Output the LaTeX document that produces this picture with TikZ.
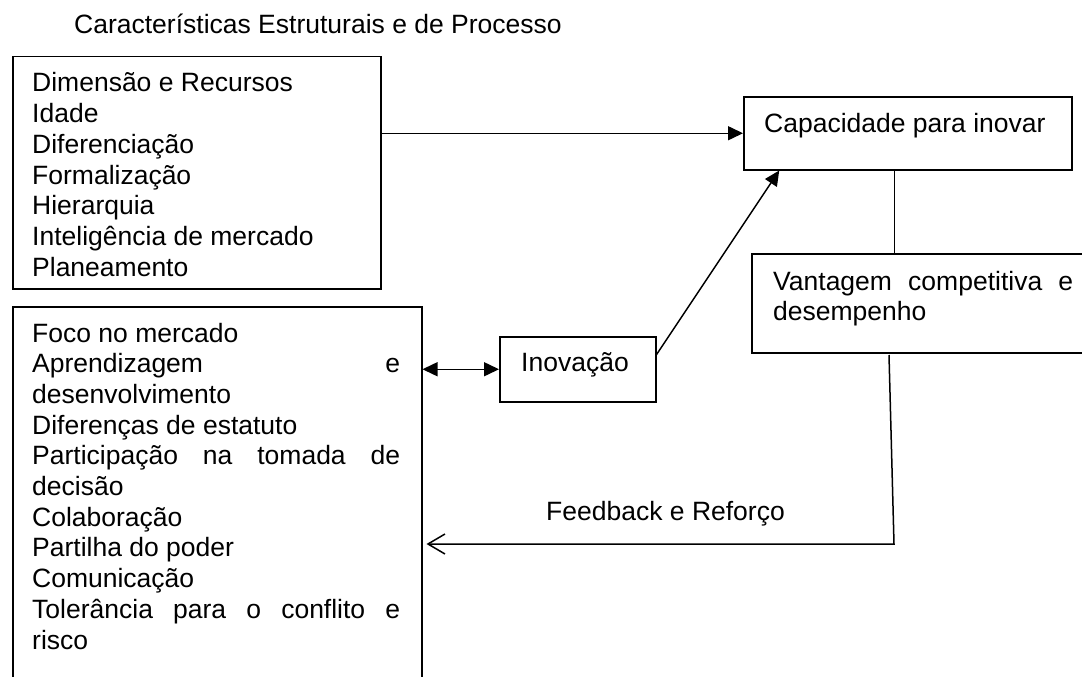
\documentclass[tikz,border=0pt]{standalone}
\usepackage{fontspec}
\setmainfont{Liberation Sans}
\usetikzlibrary{arrows.meta,calc}
\tikzset{
  boxst/.style={draw, line width=1.5pt, inner sep=0pt, anchor=north west},
  txt/.style={inner sep=0pt, anchor=base west, font=\fontsize{26.5pt}{30.7pt}\selectfont},
  conn/.style={line width=1.5pt},
  fillarrow/.style={conn, -{Triangle[length=15pt,width=14pt]}},
  dblarrow/.style={conn, {Triangle[length=15pt,width=14pt]}-{Triangle[length=15pt,width=14pt]}},
  openarrow/.style={conn, -{Straight Barb[length=17pt,width=20pt,line width=1.5pt]}}
}
\newcommand{\linesbox}[1]{\vtop{\baselineskip=30.7pt\lineskiplimit=-100pt\lineskip=0pt #1}}
\begin{document}
\begin{tikzpicture}[x=1pt,y=-1pt]
\path[use as bounding box, clip] (0,0) rectangle (1082,677);
\fill[white] (0,0) rectangle (1082,677);

% title
\node[txt] (title) at (74,34) {Características Estruturais e de Processo};

% boxes
\node[boxst, minimum width=368pt, minimum height=232pt] (box1) at (12,56) {};
\node[boxst, minimum width=409pt, minimum height=420pt] (box2) at (12,306) {};
\node[boxst, minimum width=328pt, minimum height=73pt] (cap) at (743,96) {};
\node[boxst, minimum width=400pt, minimum height=99pt] (vant) at (751,253) {};
\node[boxst, minimum width=156pt, minimum height=65pt] (inov) at (499,336) {};

% texts
\node[txt] (t1) at (32,92) {\linesbox{%
  \hbox{Dimensão e Recursos}
  \hbox{Idade}
  \hbox{Diferenciação}
  \hbox{Formalização}
  \hbox{Hierarquia}
  \hbox{Inteligência de mercado}
  \hbox{Planeamento}}};
\node[txt] (t2) at (32,342) {\linesbox{%
  \hbox{Foco no mercado}
  \hbox to 368pt{Aprendizagem\hfill e}
  \hbox{desenvolvimento}
  \hbox{Diferenças de estatuto}
  \hbox to 368pt{Participação\hfill na\hfill tomada\hfill de}
  \hbox{decisão}
  \hbox{Colaboração}
  \hbox{Partilha do poder}
  \hbox{Comunicação}
  \hbox to 368pt{Tolerância\hfill para\hfill o\hfill conflito\hfill e}
  \hbox{risco}}};
\node[txt] (t3) at (764,132) {Capacidade para inovar};
\node[txt] (t4) at (773,290) {\linesbox{%
  \hbox to 300pt{Vantagem\hfill competitiva\hfill e}
  \hbox{desempenho}}};
\node[txt] (t5) at (521,371) {Inovação};
\node[txt] (fb) at (546,520) {Feedback e Reforço};

% connectors
\draw[fillarrow] (box1.east |- cap.west) -- (cap.west);
\draw[fillarrow] ($(inov.north east)!0.28!(inov.south east)$) -- ($(cap.south west)!0.11!(cap.south east)$);
\draw[dblarrow] (box2.east |- inov.west) -- (inov.west);
\coordinate (c1) at ($(cap.south west)!0.46!(cap.south east)$);
\draw[conn] (c1) -- (c1 |- vant.north);
\coordinate (f1) at (889,355);
\coordinate (f2) at (894,544);
\draw[openarrow] (f1) -- (f2) -- ([xshift=4pt]box2.east |- f2);
\end{tikzpicture}
\end{document}
